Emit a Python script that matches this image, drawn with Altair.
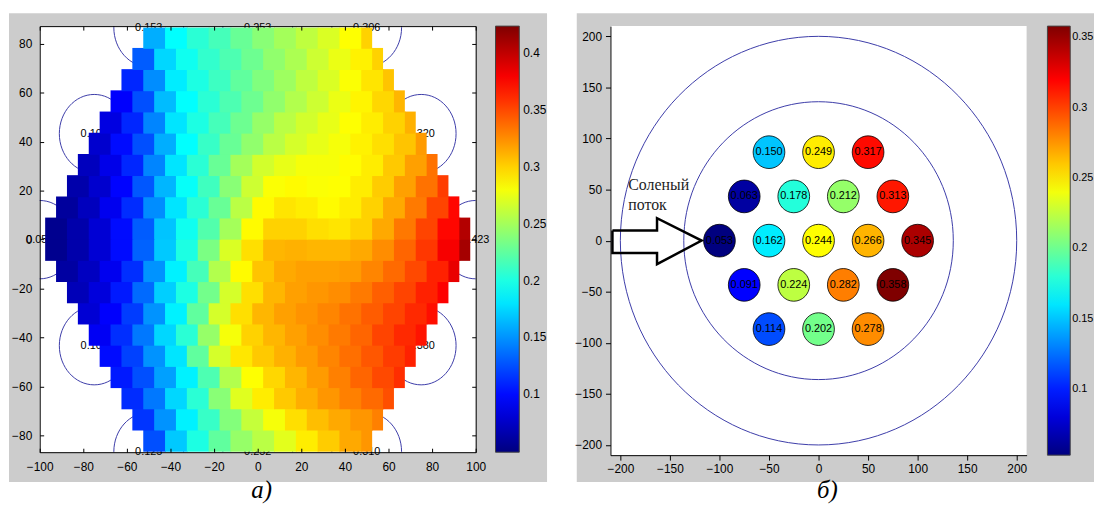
import math
import altair as alt
import pandas as pd

# ---------------- panel а): field values, rows bottom -> top
field_rows = [
    [0.125, 0.170, 0.200, 0.225, 0.245, 0.258, 0.273, 0.290, 0.302, 0.315, 0.322],
    [0.115, 0.150, 0.185, 0.210, 0.238, 0.262, 0.280, 0.295, 0.307, 0.315, 0.322, 0.330],
    [0.112, 0.140, 0.175, 0.205, 0.240, 0.272, 0.290, 0.303, 0.313, 0.322, 0.330, 0.338, 0.348],
    [0.105, 0.125, 0.155, 0.185, 0.218, 0.255, 0.283, 0.298, 0.310, 0.320, 0.330, 0.340, 0.350, 0.360],
    [0.100, 0.120, 0.150, 0.180, 0.225, 0.268, 0.292, 0.303, 0.312, 0.320, 0.328, 0.336, 0.345, 0.355, 0.365],
    [0.092, 0.113, 0.140, 0.175, 0.205, 0.245, 0.280, 0.300, 0.310, 0.318, 0.325, 0.332, 0.340, 0.352, 0.362, 0.370],
    [0.080, 0.095, 0.118, 0.150, 0.185, 0.225, 0.268, 0.295, 0.310, 0.318, 0.323, 0.328, 0.335, 0.343, 0.352, 0.362, 0.372],
    [0.070, 0.083, 0.105, 0.135, 0.172, 0.200, 0.232, 0.268, 0.295, 0.310, 0.318, 0.322, 0.325, 0.332, 0.342, 0.352, 0.365, 0.378],
    [0.062, 0.073, 0.090, 0.113, 0.150, 0.185, 0.215, 0.255, 0.285, 0.305, 0.315, 0.318, 0.318, 0.320, 0.328, 0.338, 0.350, 0.365, 0.385],
    [0.055, 0.065, 0.080, 0.100, 0.132, 0.170, 0.200, 0.235, 0.270, 0.295, 0.310, 0.312, 0.310, 0.310, 0.315, 0.325, 0.340, 0.357, 0.380, 0.410],
    [0.055, 0.065, 0.080, 0.100, 0.130, 0.168, 0.195, 0.220, 0.250, 0.285, 0.300, 0.300, 0.295, 0.293, 0.300, 0.315, 0.333, 0.352, 0.375, 0.405],
    [0.060, 0.072, 0.090, 0.112, 0.148, 0.180, 0.205, 0.228, 0.258, 0.285, 0.293, 0.290, 0.285, 0.290, 0.300, 0.315, 0.332, 0.352, 0.375],
    [0.065, 0.078, 0.097, 0.128, 0.163, 0.192, 0.213, 0.240, 0.265, 0.282, 0.285, 0.282, 0.283, 0.290, 0.302, 0.318, 0.335, 0.355],
    [0.072, 0.088, 0.110, 0.145, 0.180, 0.205, 0.228, 0.250, 0.267, 0.275, 0.280, 0.280, 0.284, 0.290, 0.303, 0.318, 0.335],
    [0.078, 0.100, 0.125, 0.160, 0.190, 0.210, 0.228, 0.243, 0.258, 0.268, 0.275, 0.280, 0.288, 0.295, 0.305, 0.320],
    [0.085, 0.110, 0.145, 0.180, 0.200, 0.215, 0.230, 0.245, 0.258, 0.267, 0.275, 0.283, 0.290, 0.300, 0.312],
    [0.095, 0.125, 0.165, 0.190, 0.205, 0.218, 0.230, 0.243, 0.255, 0.265, 0.276, 0.287, 0.298, 0.310],
    [0.110, 0.148, 0.183, 0.200, 0.212, 0.225, 0.237, 0.248, 0.260, 0.270, 0.282, 0.293, 0.305],
    [0.130, 0.175, 0.195, 0.208, 0.218, 0.230, 0.243, 0.253, 0.265, 0.276, 0.288, 0.300],
    [0.160, 0.190, 0.205, 0.215, 0.228, 0.240, 0.250, 0.260, 0.270, 0.283, 0.300],
]

# outer-ring rods of panel а) and their printed values
ring_x = [-100, -75, -50, 0, 50, 75, 100, 75, 50, 0, -50, -75]
ring_y = [0, 43.3, 86.6, 86.6, 86.6, 43.3, 0, -43.3, -86.6, -86.6, -86.6, -43.3]
ring_val = [0.050, 0.105, 0.153, 0.253, 0.306, 0.320, 0.423, 0.380, 0.310, 0.252, 0.125, 0.108]

a_xticks = [-100, -80, -60, -40, -20, 0, 20, 40, 60, 80, 100]
a_yticks = [-80, -60, -40, -20, 0, 20, 40, 60, 80]
a_cbar_ticks = [0.1, 0.15, 0.2, 0.25, 0.3, 0.35, 0.4]
a_cmin, a_cmax = 0.049, 0.424

# ---------------- panel б): 19 rods
pin_x = [-50, 0, 50, -75, -25, 25, 75, -100, -50, 0, 50, 100, -75, -25, 25, 75, -50, 0, 50]
pin_y = [86.6, 86.6, 86.6, 43.3, 43.3, 43.3, 43.3, 0, 0, 0, 0, 0,
         -43.3, -43.3, -43.3, -43.3, -86.6, -86.6, -86.6]
pin_val = [0.150, 0.249, 0.317, 0.063, 0.178, 0.212, 0.313, 0.053, 0.162, 0.244,
           0.266, 0.345, 0.091, 0.224, 0.282, 0.358, 0.114, 0.202, 0.278]
shell_r = [200, 136]
arrow_x = [-208, -163, -163, -118, -163, -163, -208, -208]
arrow_y = [10, 10, 22, 0, -23, -12, -12, 10]
salt_words = ["Соленый", "поток"]
salt_x = [-192, -192]
salt_y = [54, 35]
b_ticks = [-200, -150, -100, -50, 0, 50, 100, 150, 200]
b_cbar_ticks = [0.1, 0.15, 0.2, 0.25, 0.3, 0.35]
b_cmin, b_cmax = 0.053, 0.358

captions = ["а)", "б)"]

# ---------------- styling helpers
JET = ["#00007f", "#0000ff", "#007fff", "#00ffff", "#7fff7f",
       "#ffff00", "#ff7f00", "#ff0000", "#7f0000"]
GRAY = "#cccccc"
CIRC = "#3c3ca8"
FONT = "Liberation Sans"


def jet(lo, hi):
    dom = [lo + (hi - lo) * k / 8 for k in range(9)]
    return alt.Scale(domain=dom, range=JET, interpolate="rgb")


def ellipse_path(a):
    k = 0.5523
    f = lambda v: f"{v:.4f}"
    return (f"M {f(a)},0 C {f(a)},{f(k)} {f(k*a)},1 0,1 "
            f"C {f(-k*a)},1 {f(-a)},{f(k)} {f(-a)},0 "
            f"C {f(-a)},{f(-k)} {f(-k*a)},-1 0,-1 "
            f"C {f(k*a)},-1 {f(a)},{f(-k)} {f(a)},0 Z")


def axis(**kw):
    base = dict(grid=False, title=None, zindex=1, domainColor="black",
                tickColor="black", labelColor="black", labelFont=FONT,
                labelFontSize=12, labelFlush=False, labelOverlap=False)
    base.update(kw)
    return alt.Axis(**base)


def colorbar(x, length, thick, values, size, offset):
    return alt.Legend(type="gradient", orient="none", legendX=x, legendY=0,
                      direction="vertical", gradientLength=length,
                      gradientThickness=thick, values=values, title=None,
                      labelFont=FONT, labelFontSize=size, labelColor="black",
                      gradientStrokeColor="#444444", gradientStrokeWidth=1,
                      labelOffset=offset, padding=0, format="~g")


one = pd.DataFrame({"k": [0]})

# ================= panel а)
WA, HA = 440, 430
XD_A = [-100, 100]
YD_A = [-86.8, 87.2]
xs_a = alt.Scale(domain=XD_A, nice=False, zero=False)
ys_a = alt.Scale(domain=YD_A, nice=False, zero=False)
jet_a = jet(a_cmin, a_cmax)

# cell geometry: rows of the hexagon, each row split into 10-unit cells;
# a hair of overlap into the next cell hides anti-aliasing seams
cells = []
row_h = 2 * 86.6 / len(field_rows)
for r, vals in enumerate(field_rows):
    y0 = -86.6 + r * row_h
    half = 100 - abs(y0 + row_h / 2) / math.sqrt(3)
    for i, v in enumerate(vals):
        x0 = -half + 10 * i
        if x0 >= half:
            continue
        cells.append(dict(x0=x0, x1=min(x0 + 10.4, half), y0=y0,
                          y1=min(y0 + row_h + 0.35, 86.6), v=v))
cells_df = pd.DataFrame(cells)
ring_df = pd.DataFrame({"x": ring_x, "y": ring_y, "v": ring_val})

pxx_a = WA / (XD_A[1] - XD_A[0])
pxy_a = HA / (YD_A[1] - YD_A[0])
rod_r = 16
ell_a = ellipse_path(pxx_a / pxy_a)
size_a = (2 * rod_r * pxy_a) ** 2

bg_a = alt.Chart(one).mark_rect(color=GRAY).encode(
    x=alt.value(-31), x2=alt.value(512), y=alt.value(-13), y2=alt.value(460))
white_a = alt.Chart(one).mark_rect(color="white").encode(
    x=alt.value(0), x2=alt.value(WA), y=alt.value(0), y2=alt.value(HA))

lab_a = alt.Chart(ring_df).mark_text(font=FONT, fontSize=11, color="black",
                                     align="center", baseline="middle").encode(
    x=alt.X("x:Q", scale=xs_a, axis=axis(orient="bottom", offset=-HA, values=a_xticks,
                                         labels=False, domain=True, tickSize=4)),
    y=alt.Y("y:Q", scale=ys_a, axis=axis(orient="left", offset=-WA, values=a_yticks,
                                         labels=False, domain=True, tickSize=4)),
    text=alt.Text("v:Q", format=".3f"),
)

circ_a = alt.Chart(ring_df).mark_point(shape=ell_a, size=size_a, filled=False, color=CIRC,
                                       strokeWidth=1, opacity=1, clip=True).encode(
    x=alt.X("x:Q", scale=xs_a, axis=axis(orient="top", offset=-HA, values=a_xticks,
                                         labels=False, domain=False, tickSize=4)),
    y=alt.Y("y:Q", scale=ys_a, axis=axis(orient="right", offset=-WA, values=a_yticks,
                                         labels=False, domain=False, tickSize=4)),
)

heat = alt.Chart(cells_df).mark_rect().encode(
    x=alt.X("x0:Q", scale=xs_a, axis=axis(orient="bottom", values=a_xticks, ticks=False,
                                          tickSize=0, labelPadding=9, domain=True)),
    x2="x1:Q",
    y=alt.Y("y0:Q", scale=ys_a, axis=axis(orient="left", values=a_yticks, ticks=False,
                                          tickSize=0, labelPadding=8, domain=True)),
    y2="y1:Q",
    fill=alt.Fill("v:Q", scale=jet_a,
                  legend=colorbar(WA + 20, HA, 24, a_cbar_ticks, 12, 4)),
)

cap_a = alt.Chart(pd.DataFrame({"t": [captions[0]]})).mark_text(
    font="Liberation Serif", fontSize=25, fontStyle="italic", color="black",
    align="center", baseline="alphabetic").encode(
    x=alt.value(224), y=alt.value(476), text="t:N")

panel_a = alt.layer(bg_a, white_a, lab_a, circ_a, heat, cap_a).resolve_axis(
    x="independent", y="independent").properties(width=WA, height=HA)

# ================= panel б)
WB, HB = 420, 433
XD_B = [-210, 210]
YD_B = [-210, 210]
xs_b = alt.Scale(domain=XD_B, nice=False, zero=False)
ys_b = alt.Scale(domain=YD_B, nice=False, zero=False)
jet_b = jet(b_cmin, b_cmax)
ax_bx = axis(orient="bottom", values=b_ticks, tickSize=5, labelPadding=3, domain=True)
ax_by = axis(orient="left", values=b_ticks, tickSize=5, labelPadding=4, domain=True)
X_B = lambda f: alt.X(f, scale=xs_b, axis=ax_bx)
Y_B = lambda f: alt.Y(f, scale=ys_b, axis=ax_by)

pxx_b = WB / (XD_B[1] - XD_B[0])
pxy_b = HB / (YD_B[1] - YD_B[0])
ell_b = ellipse_path(pxx_b / pxy_b)

shell_df = pd.DataFrame({"x": [0] * len(shell_r), "y": [0] * len(shell_r), "r": shell_r})
shell_df["sz"] = (2 * shell_df["r"] * pxy_b) ** 2
pin_df = pd.DataFrame({"x": pin_x, "y": pin_y, "v": pin_val})
arrow_df = pd.DataFrame({"x": arrow_x, "y": arrow_y, "i": list(range(len(arrow_x)))})
salt_df = pd.DataFrame({"x": salt_x, "y": salt_y, "t": salt_words})

bg_b = alt.Chart(one).mark_rect(color=GRAY).encode(
    x=alt.value(-34), x2=alt.value(488), y=alt.value(-13), y2=alt.value(460))
white_b = alt.Chart(one).mark_rect(color="white").encode(
    x=alt.value(0), x2=alt.value(WB), y=alt.value(0), y2=alt.value(HB))

shells = alt.Chart(shell_df).mark_point(shape=ell_b, filled=False, color=CIRC,
                                        strokeWidth=1, opacity=1).encode(
    x=X_B("x:Q"), y=Y_B("y:Q"), size=alt.Size("sz:Q", scale=None, legend=None))

arrow = alt.Chart(arrow_df).mark_line(color="black", strokeWidth=2.5,
                                      strokeJoin="miter").encode(
    x=X_B("x:Q"), y=Y_B("y:Q"), order="i:Q")

salt = alt.Chart(salt_df).mark_text(font="Liberation Serif", fontSize=16, color="#222222",
                                    align="left", baseline="middle").encode(
    x=X_B("x:Q"), y=Y_B("y:Q"), text="t:N")

pins = alt.Chart(pin_df).mark_point(shape=ell_b, size=(2 * rod_r * pxy_b) ** 2, filled=True,
                                    stroke="black", strokeWidth=0.8, opacity=1).encode(
    x=X_B("x:Q"), y=Y_B("y:Q"),
    fill=alt.Fill("v:Q", scale=jet_b,
                  legend=colorbar(WB + 21, HB, 23, b_cbar_ticks, 11, 2)))

pin_lab = alt.Chart(pin_df).mark_text(font=FONT, fontSize=11, color="black",
                                      align="center", baseline="middle").encode(
    x=X_B("x:Q"), y=Y_B("y:Q"), text=alt.Text("v:Q", format=".3f"))

cap_b = alt.Chart(pd.DataFrame({"t": [captions[1]]})).mark_text(
    font="Liberation Serif", fontSize=25, fontStyle="italic", color="black",
    align="center", baseline="alphabetic").encode(
    x=alt.value(219), y=alt.value(476), text="t:N")

panel_b = alt.layer(bg_b, white_b, shells, arrow, salt, pins, pin_lab, cap_b).properties(
    width=WB, height=HB)

chart = alt.hconcat(panel_a, panel_b, spacing=27).resolve_scale(
    fill="independent", size="independent",
    x="independent", y="independent").properties(
    padding={"left": 1, "top": 3, "right": 0, "bottom": 0},
    background="white").configure_view(strokeWidth=0)

chart.save("out.html", embed_options={"renderer": "svg", "actions": False})
